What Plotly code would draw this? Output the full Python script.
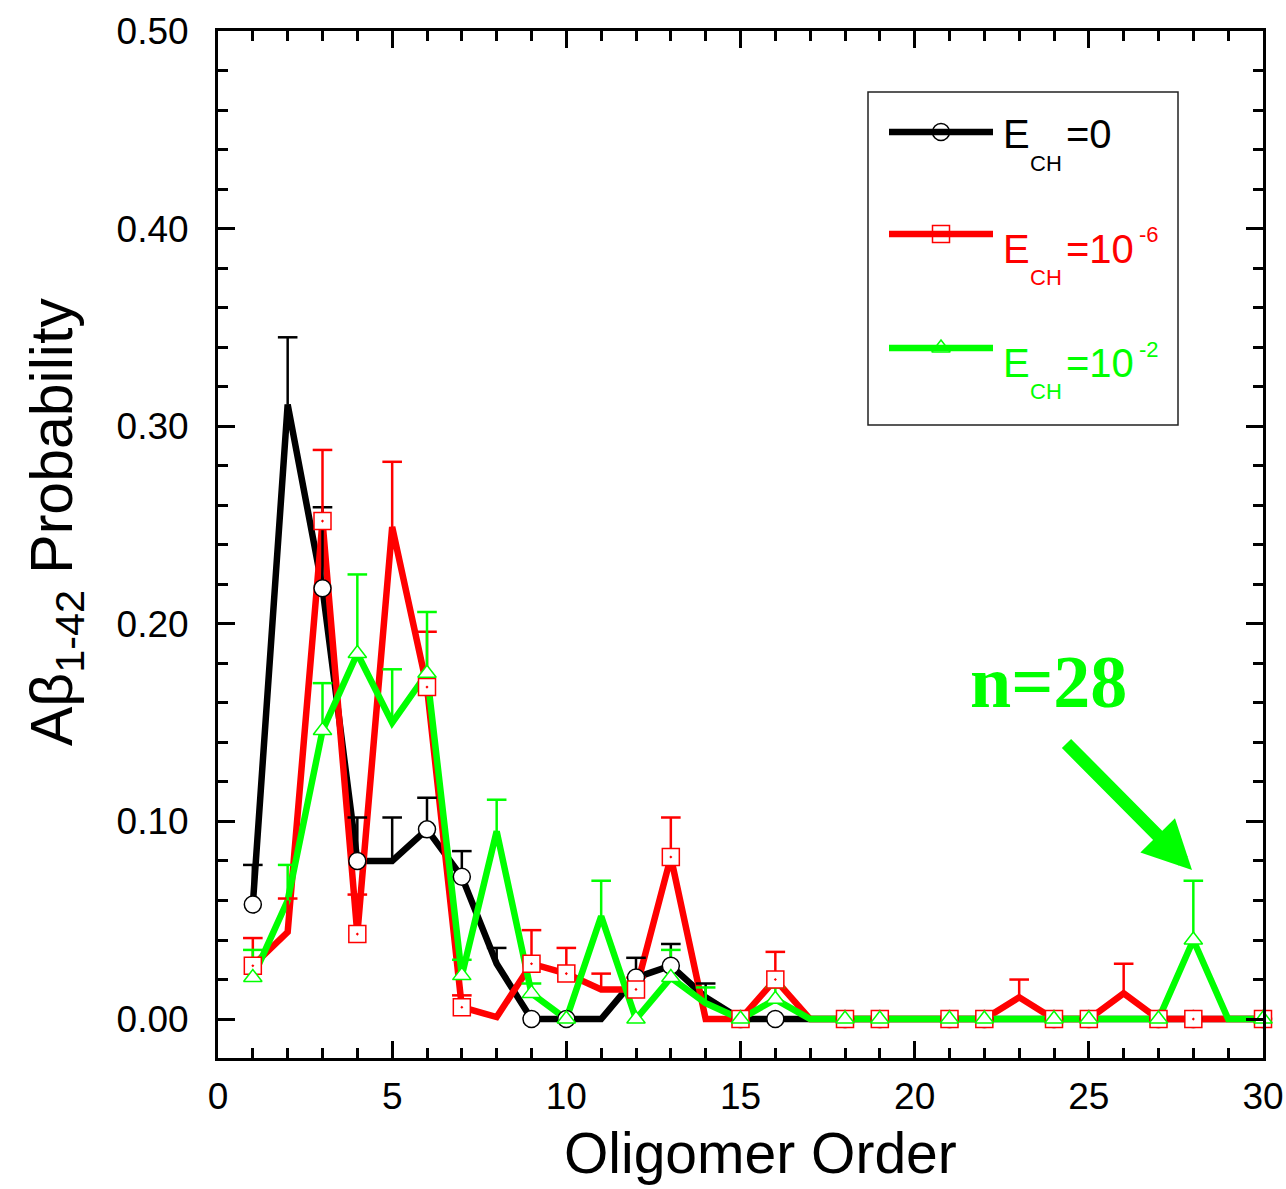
import plotly.graph_objects as go

# ---------------- data ----------------
oligomer_order = [1, 2, 3, 4, 5, 6, 7, 8, 9, 10, 11, 12, 13, 14, 15,
                  16, 17, 18, 19, 20, 21, 22, 23, 24, 25, 26, 27, 28, 29, 30]

prob_ech0 = [0.058, 0.311, 0.218, 0.080, 0.080, 0.096, 0.072, 0.028, 0.0, 0.0,
             0.0, 0.021, 0.027, 0.011, 0.0, 0.0, 0.0, 0.0, 0.0, 0.0,
             0.0, 0.0, 0.0, 0.0, 0.0, 0.0, 0.0, 0.0, 0.0, 0.0]
err_ech0 = [0.020, 0.034, 0.041, 0.022, 0.022, 0.016, 0.013, 0.008, None, None,
            None, 0.010, 0.011, 0.007, None, None, None, None, None, None,
            None, None, None, None, None, None, None, None, None, None]

prob_ech1e6 = [0.027, 0.044, 0.252, 0.043, 0.249, 0.168, 0.006, 0.001, 0.028, 0.023,
               0.015, 0.015, 0.082, 0.0, 0.0, 0.020, 0.0, 0.0, 0.0, 0.0,
               0.0, 0.0, 0.011, 0.0, 0.0, 0.013, 0.0, 0.0, 0.0, 0.0]
err_ech1e6 = [0.014, 0.017, 0.036, 0.020, 0.033, 0.028, 0.006, None, 0.017, 0.013,
              0.008, 0.006, 0.020, None, None, 0.014, None, None, None, None,
              None, None, 0.009, None, None, 0.015, None, None, None, None]

prob_ech1e2 = [0.021, 0.060, 0.146, 0.185, 0.150, 0.175, 0.022, 0.095, 0.013, 0.0,
               0.052, 0.0, 0.021, 0.008, 0.0, 0.010, 0.0, 0.0, 0.0, 0.0,
               0.0, 0.0, 0.0, 0.0, 0.0, 0.0, 0.0, 0.040, 0.0, 0.0]
err_ech1e2 = [0.014, 0.018, 0.024, 0.040, 0.027, 0.031, 0.008, 0.016, 0.005, None,
              0.018, None, 0.014, 0.008, None, 0.006, None, None, None, None,
              None, None, None, None, None, None, None, 0.030, None, None]

series_main = ["E", "E", "E"]
series_sub = ["CH", "CH", "CH"]
series_tail = ["=0", "=10", "=10"]
series_sup = ["", "-6", "-2"]

x_ticks = [0, 5, 10, 15, 20, 25, 30]
y_ticks = [0.0, 0.1, 0.2, 0.3, 0.4, 0.5]

# ---------------- style ----------------
BLACK, RED, GREEN = "#000000", "#ff0000", "#00ff00"
colors = [BLACK, RED, GREEN]
symbols = ["circle", "square-dot", "triangle-up"]
msizes = [17, 17, 16]
FONT = "Liberation Sans, Arial, Helvetica, sans-serif"
LW = 6.5

W, H = 1286, 1189
ML, MR, MT, MB = 218, 23, 31, 131
PW, PH = W - ML - MR, H - MT - MB


def px(xp):
    return (xp - ML) / PW


def py(yp):
    return (H - MB - yp) / PH


series = [(prob_ech0, err_ech0), (prob_ech1e6, err_ech1e6), (prob_ech1e2, err_ech1e2)]

fig = go.Figure()

# lines
for (vals, errs), c in zip(series, colors):
    fig.add_trace(go.Scatter(x=oligomer_order, y=vals, mode="lines",
                             line=dict(color=c, width=LW), cliponaxis=False,
                             showlegend=False, hoverinfo="skip"))

# error bars (upper only)
for (vals, errs), c in zip(series, colors):
    sx, sy, cx, cy = [], [], [], []
    for xv, v, e in zip(oligomer_order, vals, errs):
        if e is None:
            continue
        sx += [xv, xv, None]
        sy += [v, v + e, None]
        cx.append(xv)
        cy.append(v + e)
    fig.add_trace(go.Scatter(x=sx, y=sy, mode="lines", line=dict(color=c, width=2.5),
                             showlegend=False, hoverinfo="skip", cliponaxis=False))
    fig.add_trace(go.Scatter(x=cx, y=cy, mode="markers",
                             marker=dict(symbol="line-ew", size=14,
                                         line=dict(color=c, width=2.5)),
                             showlegend=False, hoverinfo="skip", cliponaxis=False))

# markers (Origin-style skip: every point except x = 2, 5, 8, ...)
for (vals, errs), c, s, ms in zip(series, colors, symbols, msizes):
    mx = [xv for xv in oligomer_order if xv % 3 != 2]
    my = [v for xv, v in zip(oligomer_order, vals) if xv % 3 != 2]
    fig.add_trace(go.Scatter(x=mx, y=my, mode="markers",
                             marker=dict(symbol=s, size=ms, color="white",
                                         line=dict(color=c, width=1.5)),
                             showlegend=False, cliponaxis=False))

# legend samples on an overlay axis matching paper coords
leg_line_y = [132, 234, 348]
for i, c in enumerate(colors):
    fig.add_shape(type="line", xref="paper", yref="paper",
                  x0=px(889), x1=px(993), y0=py(leg_line_y[i]), y1=py(leg_line_y[i]),
                  line=dict(color=c, width=LW))
    fig.add_trace(go.Scatter(x=[px(941)], y=[py(leg_line_y[i])], xaxis="x2", yaxis="y2",
                             mode="markers",
                             marker=dict(symbol=symbols[i], size=msizes[i], color="white",
                                         line=dict(color=c, width=1.5)),
                             showlegend=False, hoverinfo="skip", cliponaxis=False))

fig.add_shape(type="rect", xref="paper", yref="paper",
              x0=px(868), x1=px(1178), y0=py(425), y1=py(92),
              line=dict(color="#222222", width=1.5), fillcolor="rgba(0,0,0,0)")

ann = []
main_y = [134, 249, 363]
sub_y = [164, 277, 391]
sup_y = [None, 234, 349]
for i, c in enumerate(colors):
    ann.append(dict(text=series_main[i], x=px(1001), y=py(main_y[i]), xref="paper", yref="paper",
                    xanchor="left", yanchor="middle", showarrow=False,
                    font=dict(family=FONT, size=40, color=c)))
    ann.append(dict(text=series_sub[i], x=px(1028), y=py(sub_y[i]), xref="paper", yref="paper",
                    xanchor="left", yanchor="middle", showarrow=False,
                    font=dict(family=FONT, size=22, color=c)))
    ann.append(dict(text=series_tail[i], x=px(1064), y=py(main_y[i]), xref="paper", yref="paper",
                    xanchor="left", yanchor="middle", showarrow=False,
                    font=dict(family=FONT, size=40, color=c)))
    if series_sup[i]:
        ann.append(dict(text=series_sup[i], x=px(1137), y=py(sup_y[i]), xref="paper", yref="paper",
                        xanchor="left", yanchor="middle", showarrow=False,
                        font=dict(family=FONT, size=22, color=c)))

# axis titles
ann.append(dict(text="Oligomer Order", x=px(760), y=py(1153), xref="paper", yref="paper",
                xanchor="center", yanchor="middle", showarrow=False,
                font=dict(family=FONT, size=57, color="black")))
ann.append(dict(text="Aβ<sub>1-42</sub> Probability", x=px(56), y=py(522),
                xref="paper", yref="paper", textangle=-90,
                xanchor="center", yanchor="middle", showarrow=False,
                font=dict(family=FONT, size=59, color="black")))

# n=28 note and arrow
ann.append(dict(text="<b>n=28</b>", x=px(1048), y=py(682), xref="paper", yref="paper",
                xanchor="center", yanchor="middle", showarrow=False,
                font=dict(family="Liberation Serif, Times New Roman, serif", size=74, color=GREEN)))
ann.append(dict(text="", x=px(1192), y=py(870), xref="paper", yref="paper",
                ax=-127, ay=-128, showarrow=True, arrowhead=2, arrowsize=0.75,
                arrowwidth=13, arrowcolor=GREEN, standoff=0))

axis_common = dict(showline=True, linewidth=3, linecolor="black", mirror="allticks",
                   ticks="inside", ticklen=17, tickwidth=3, tickcolor="black",
                   showgrid=False, zeroline=False, automargin=False,
                   tickfont=dict(family=FONT, size=37, color="black"))

fig.update_layout(
    width=W, height=H,
    margin=dict(l=ML, r=MR, t=MT, b=MB, autoexpand=False),
    plot_bgcolor="white", paper_bgcolor="white",
    showlegend=False,
    xaxis=dict(range=[0, 30], tickvals=x_ticks,
               minor=dict(dtick=1, ticklen=10, tickwidth=3, tickcolor="black", ticks="inside"),
               ticklabelstandoff=4, **axis_common),
    yaxis=dict(range=[-0.0197, 0.5], tickvals=y_ticks, tickformat=".2f",
               minor=dict(dtick=0.02, ticklen=10, tickwidth=3, tickcolor="black", ticks="inside"),
               ticklabelstandoff=19, **axis_common),
    xaxis2=dict(overlaying="x", range=[0, 1], visible=False),
    yaxis2=dict(overlaying="y", range=[0, 1], visible=False),
    annotations=ann,
)

fig.write_html("out.html")
